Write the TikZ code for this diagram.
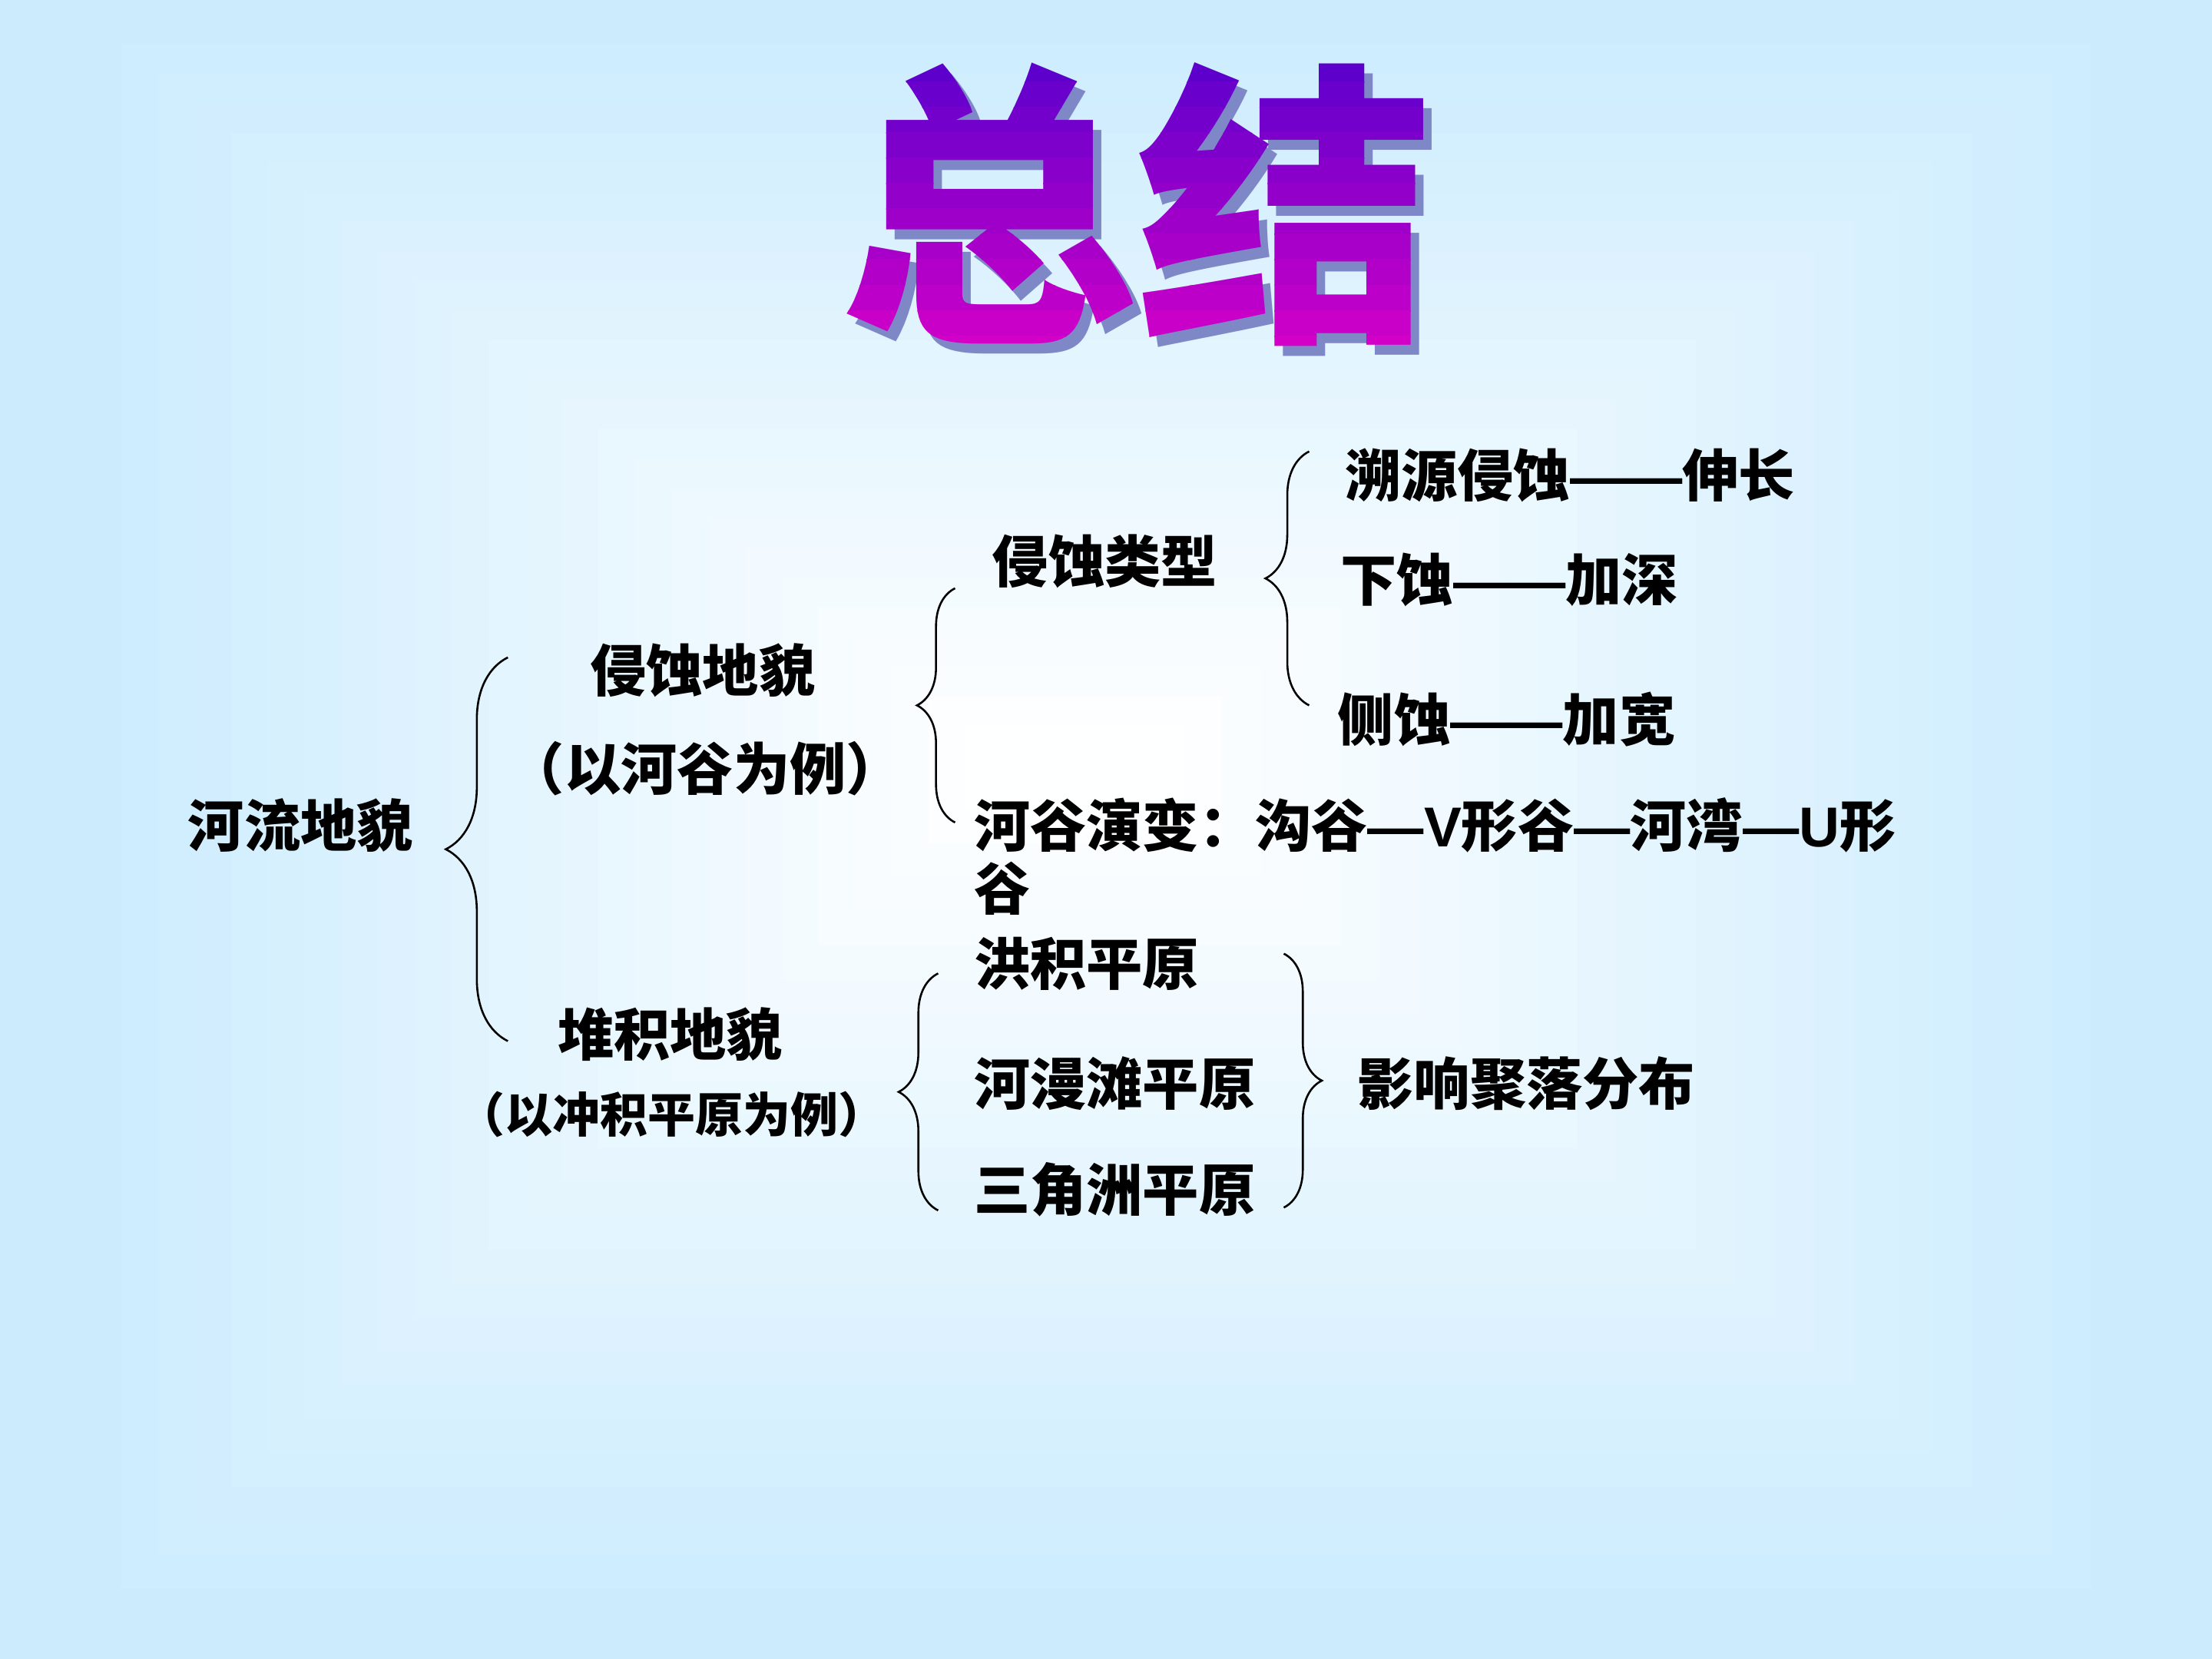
\documentclass[tikz,border=0pt]{standalone}
\usepackage{fontspec}
\usetikzlibrary{decorations.pathreplacing}

\newfontfamily\hei{Noto Sans CJK SC}
\newfontfamily\arialb{Liberation Sans}
\newcommand{\dsh}{{\arialb\bfseries —}}
\newcommand{\latb}[1]{{\arialb\bfseries #1}}

\definecolor{bgblue}{HTML}{CCECFE}
\definecolor{ttop}{HTML}{5E00CC}
\definecolor{tbot}{HTML}{D400C8}
\definecolor{tshadow}{HTML}{7F88C6}

\tikzset{
  item/.style={anchor=west, inner sep=0pt, font=\hei\bfseries\fontsize{22.7}{25.5}\selectfont},
  small/.style={item, anchor=center, font=\hei\bfseries\fontsize{19.2}{24}\selectfont},
  bracket/.style={draw, line width=0.8pt, decorate, decoration={brace, amplitude=#1}},
  title/.style={inner sep=0pt, font=\hei\bfseries\fontsize{120}{125}\selectfont}
}

\begin{document}
\begin{tikzpicture}[x=0.02cm, y=-0.02cm]
\useasboundingbox (0,0) rectangle (1568,1176);

% Background
\fill[bgblue] (0,0) rectangle (1568,1176);
\foreach \i in {1,...,24}{
  \pgfmathsetmacro\w{4.1*\i}
  \fill[white!\w!bgblue] ({60+\i*26},{10+\i*21}) rectangle ({1510-\i*28},{1150-\i*24});
}

% Title: shadow, then the face in colour bands
\node[title, text=tshadow] (shadow) at (812,152) {总结};
\foreach \i in {0,...,11}{
  \pgfmathsetmacro\f{\i*9}
  \begin{scope}
    \clip (0,{40+\i*18}) rectangle (1568,{58.5+\i*18});
    \node[title, text=tbot!\f!ttop] (band\i) at (806,145) {总结};
  \end{scope}
}

% Nodes
\node[item] (river) at (133,585) {河流地貌};
\node[item] (erosion) at (418,475) {侵蚀地貌};
\node[item, anchor=center] (erosionex) at (500,545) {（以河谷为例）};
\node[item] (depo) at (395,733) {堆积地貌};
\node[small] (depoex) at (476,790) {（以冲积平原为例）};

\node[item] (etype) at (703,398) {侵蚀类型};
\node[item] (headward) at (953,337) {溯源侵蚀\dsh\dsh 伸长};
\node[item] (down) at (950,411) {下蚀\dsh\dsh 加深};
\node[item] (lateral) at (948,510) {侧蚀\dsh\dsh 加宽};
\node[item, anchor=base west, align=left] (valley) at (690,645)
  {河谷演变：沟谷\dsh\latb{V}形谷\dsh 河湾\dsh\latb{U}形\\谷};

\node[item] (alluvfan) at (690,683) {洪积平原};
\node[item] (floodplain) at (690,768) {河漫滩平原};
\node[item] (delta) at (690,843) {三角洲平原};
\node[item] (settle) at (962,768) {影响聚落分布};

% Braces
\coordinate (b1t) at (360,466);
\coordinate (b1b) at (360,738);
\coordinate (b2t) at (677,417);
\coordinate (b2b) at (677,583);
\coordinate (b3t) at (928,320);
\coordinate (b3b) at (928,500);
\coordinate (b4t) at (665,690);
\coordinate (b4b) at (665,858);
\coordinate (b5t) at (910,676);
\coordinate (b5b) at (910,856);

\draw[bracket=0.88cm] (b1b) -- (b1t);
\draw[bracket=0.54cm] (b2b) -- (b2t);
\draw[bracket=0.62cm] (b3b) -- (b3t);
\draw[bracket=0.56cm] (b4b) -- (b4t);
\draw[bracket=0.54cm] (b5t) -- (b5b);

\end{tikzpicture}
\end{document}
